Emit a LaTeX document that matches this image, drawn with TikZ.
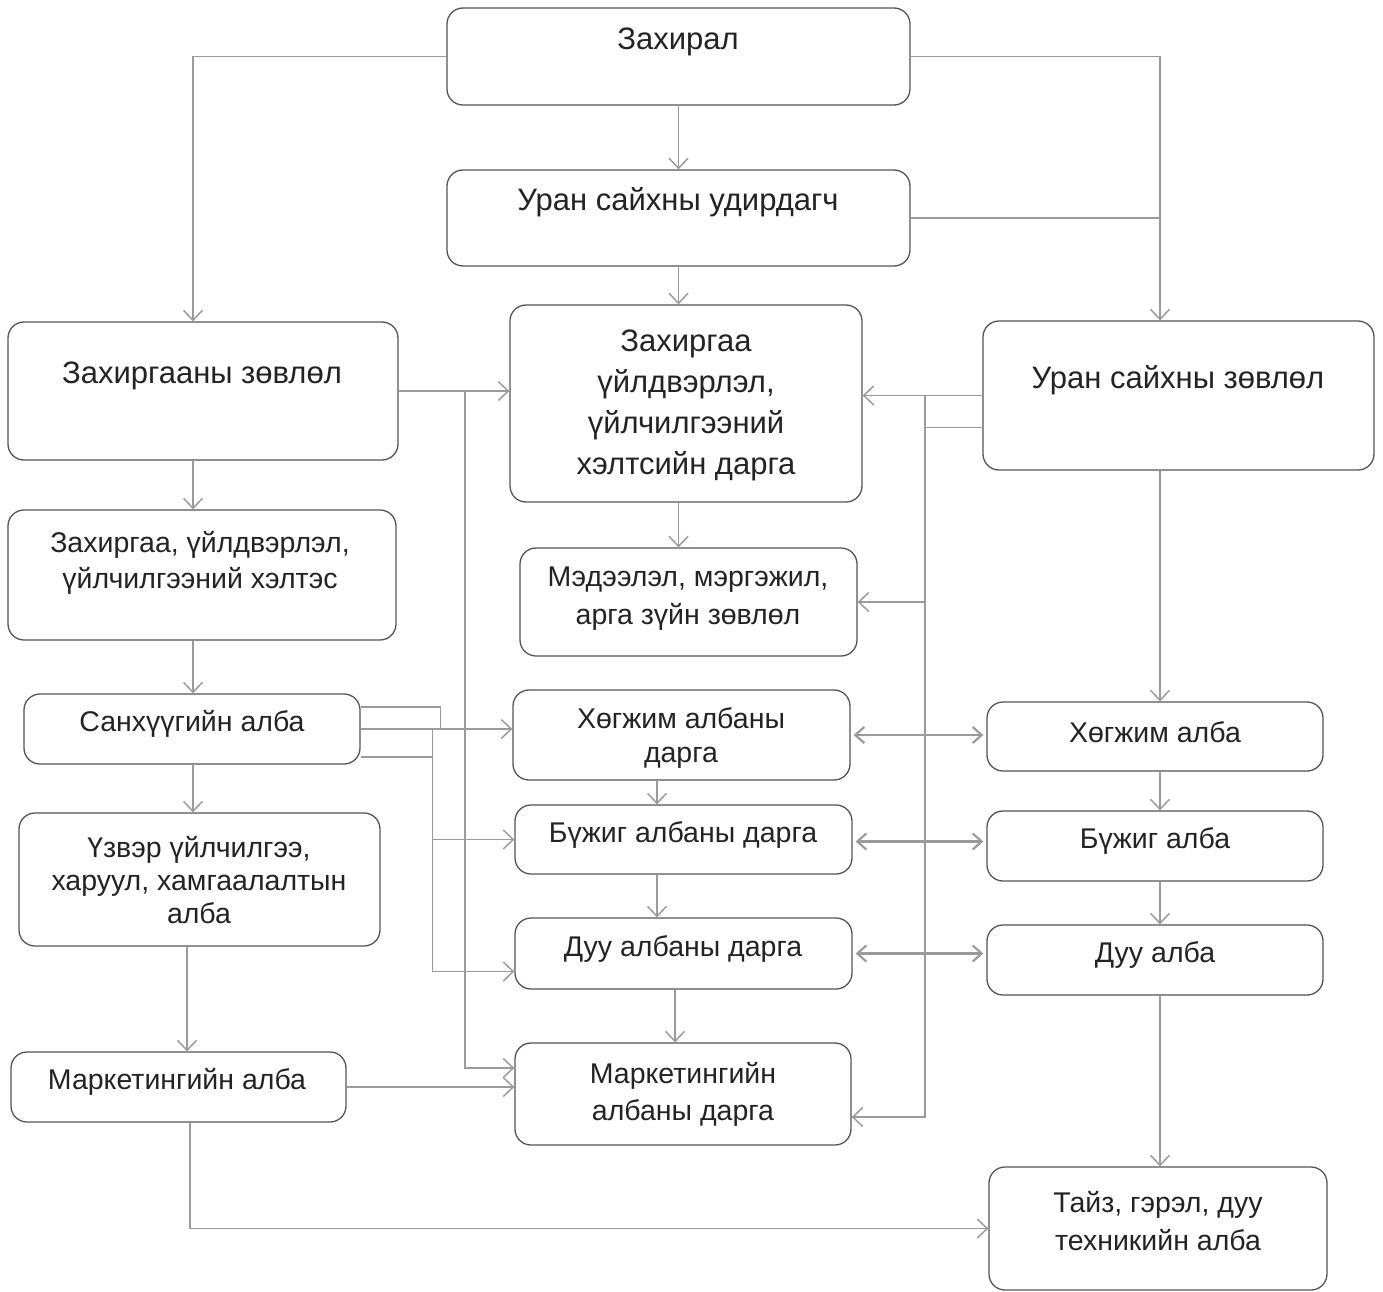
\documentclass[tikz,border=0pt]{standalone}
\usepackage{fontspec}
\setmainfont{Liberation Sans}
\usetikzlibrary{arrows.meta,positioning}
\definecolor{boxline}{RGB}{85,85,85}
\definecolor{conline}{RGB}{155,155,155}
\definecolor{txtcol}{RGB}{35,35,35}
\tikzset{
  box/.style={draw=boxline, line width=1.3pt, rounded corners=16pt, inner sep=0pt},
  txt/.style={text=txtcol, align=center, inner sep=0pt, font=\fontsize{28.5}{34}\selectfont},
  bigtxt/.style={txt, font=\fontsize{31}{41}\selectfont},
  conn/.style={draw=conline, line width=1.5pt},
  arr/.style={conn, -{Straight Barb[length=10pt,width=19pt,line width=1.5pt]}},
  dbl/.style={conn, line width=2.2pt, shorten <=3pt, shorten >=3pt,
    {Straight Barb[length=9pt,width=16pt]}-{Straight Barb[length=9pt,width=16pt]}},
}
\begin{document}
\begin{tikzpicture}[x=1pt,y=-1pt]
\useasboundingbox (0,0) rectangle (1383,1292);
    % top
\node[box, minimum width=463pt, minimum height=97pt] (zah) at (678.5,56.5) {};
\node[bigtxt] (zah-t) at (678,42) {Захирал};
\node[box, minimum width=463pt, minimum height=96pt] (ud) at (678.5,218) {};
\node[bigtxt] (ud-t) at (678,202) {Уран сайхны удирдагч};
    % left column
\node[box, minimum width=390pt, minimum height=138pt] (zz) at (203,391) {};
\node[bigtxt] (zz-t) at (202,376) {Захиргааны зөвлөл};
\node[box, minimum width=388pt, minimum height=130pt] (hx) at (202,575) {};
\node[txt, font=\fontsize{28.5}{36}\selectfont] (hx-t) at (200,563) {Захиргаа, үйлдвэрлэл,\\үйлчилгээний хэлтэс};
\node[box, minimum width=336pt, minimum height=70pt] (san) at (192,729) {};
\node[txt] (san-t) at (192,724) {Санхүүгийн алба};
\node[box, minimum width=361pt, minimum height=133pt] (uzv) at (199.5,879.5) {};
\node[txt, font=\fontsize{28.5}{33}\selectfont] (uzv-t) at (199,880) {Үзвэр үйлчилгээ,\\харуул, хамгаалалтын\\алба};
\node[box, minimum width=335pt, minimum height=70pt] (mka) at (178.5,1087) {};
\node[txt] (mka-t) at (177,1082) {Маркетингийн алба};
    % middle column
\node[box, minimum width=352pt, minimum height=197pt] (hd) at (686,403.5) {};
\node[bigtxt] (hd-t) at (686,405) {Захиргаа\\үйлдвэрлэл,\\үйлчилгээний\\хэлтсийн дарга};
\node[box, minimum width=337pt, minimum height=108pt] (mz) at (688.5,602) {};
\node[txt, font=\fontsize{28.5}{38}\selectfont] (mz-t) at (688,599) {Мэдээлэл, мэргэжил,\\арга зүйн зөвлөл};
\node[box, minimum width=337pt, minimum height=90pt] (hgd) at (681.5,735) {};
\node[txt] (hgd-t) at (681,738) {Хөгжим албаны\\дарга};
\node[box, minimum width=337pt, minimum height=69pt] (bjd) at (683.5,839.5) {};
\node[txt] (bjd-t) at (683,835) {Бүжиг албаны дарга};
\node[box, minimum width=337pt, minimum height=71pt] (dud) at (683.5,953.5) {};
\node[txt] (dud-t) at (683,949) {Дуу албаны дарга};
\node[box, minimum width=336pt, minimum height=102pt] (mkd) at (683,1094) {};
\node[txt, font=\fontsize{28.5}{37}\selectfont] (mkd-t) at (683,1094) {Маркетингийн\\албаны дарга};
    % right column
\node[box, minimum width=391pt, minimum height=149pt] (uz) at (1178.5,395.5) {};
\node[bigtxt] (uz-t) at (1178,380) {Уран сайхны зөвлөл};
\node[box, minimum width=336pt, minimum height=69pt] (hga) at (1155,736.5) {};
\node[txt] (hga-t) at (1155,732) {Хөгжим алба};
\node[box, minimum width=336pt, minimum height=70pt] (bja) at (1155,846) {};
\node[txt] (bja-t) at (1155,841) {Бүжиг алба};
\node[box, minimum width=336pt, minimum height=70pt] (dua) at (1155,960) {};
\node[txt] (dua-t) at (1155,955) {Дуу алба};
\node[box, minimum width=338pt, minimum height=123pt] (tz) at (1158,1228.5) {};
\node[txt, font=\fontsize{28.5}{38}\selectfont] (tz-t) at (1158,1221) {Тайз, гэрэл, дуу\\техникийн алба};

\coordinate (lc) at (193,0);
\coordinate (rc) at (1160,0);
\coordinate (mc) at (657,0);
    % from the top boxes
\draw[arr] (zah.west) -| (lc |- zz.north);
\draw[arr] (zah.east) -| (rc |- uz.north);
\draw[conn] (ud.east) -- (rc |- ud.east);
\draw[arr] (zah.south) -- (ud.north);
\draw[arr] (ud.south) -- (ud.south |- hd.north);
\draw[arr] (ud.south |- hd.south) -- (ud.south |- mz.north);
    % left chain
\draw[arr] (lc |- zz.south) -- (lc |- hx.north);
\draw[arr] (lc |- hx.south) -- (lc |- san.north);
\draw[arr] (lc |- san.south) -- (lc |- uzv.north);
\draw[arr] ([xshift=-6pt]lc |- uzv.south) -- ([xshift=-6pt]lc |- mka.north);
\draw[arr] ([xshift=-3pt]lc |- mka.south) |- (tz.west);
\draw[arr] (mka.east) -- (mka.east -| mkd.west);
\draw[arr] (zz.east) -- (zz.east -| hd.west);
\coordinate (lv) at (465,391);
\draw[arr] (lv) |- ([yshift=26pt]mkd.west);
    % Sanhuu lines
\draw[arr] (san.east) -- (san.east -| hgd.west);
\draw[conn] ([yshift=22pt]san.east) -- ++(80,0) coordinate (sa) -- (sa |- san.east);
\draw[arr] (san.east) ++(72,0) coordinate (sj) |- ([yshift=-18pt]dud.west);
\draw[arr] (sj |- bjd.west) -- (bjd.west);
\draw[conn] ([yshift=-28pt]san.east) -- (sj |- 0,757);
    % middle chain
\draw[arr] (mc |- hgd.south) -- (mc |- bjd.north);
\draw[arr] (mc |- bjd.south) -- (mc |- dud.north);
\draw[arr] ([xshift=18pt]mc |- dud.south) -- ([xshift=18pt]mc |- mkd.north);
    % from Uran saihny zovlol
\coordinate (rj) at (925,396);
\draw[arr] (uz.west) -- (uz.west -| hd.east);
\draw[conn] ([yshift=-32pt]uz.west) -| (rj);
\draw[arr] (rj) |- ([yshift=-23pt]mkd.east);
\draw[arr] (rj |- mz.east) -- (mz.east);
    % right chain
\draw[arr] (rc |- uz.south) -- (rc |- hga.north);
\draw[arr] (rc |- hga.south) -- (rc |- bja.north);
\draw[arr] (rc |- bja.south) -- (rc |- dua.north);
\draw[arr] (rc |- dua.south) -- (rc |- tz.north);
    % both ways
\draw[dbl] (hgd.east) -- (hgd.east -| hga.west);
\draw[dbl] ([yshift=-2pt]bjd.east) -- ([yshift=-2pt]bjd.east -| bja.west);
\draw[dbl] (dud.east) -- (dud.east -| dua.west);
\end{tikzpicture}
\end{document}
